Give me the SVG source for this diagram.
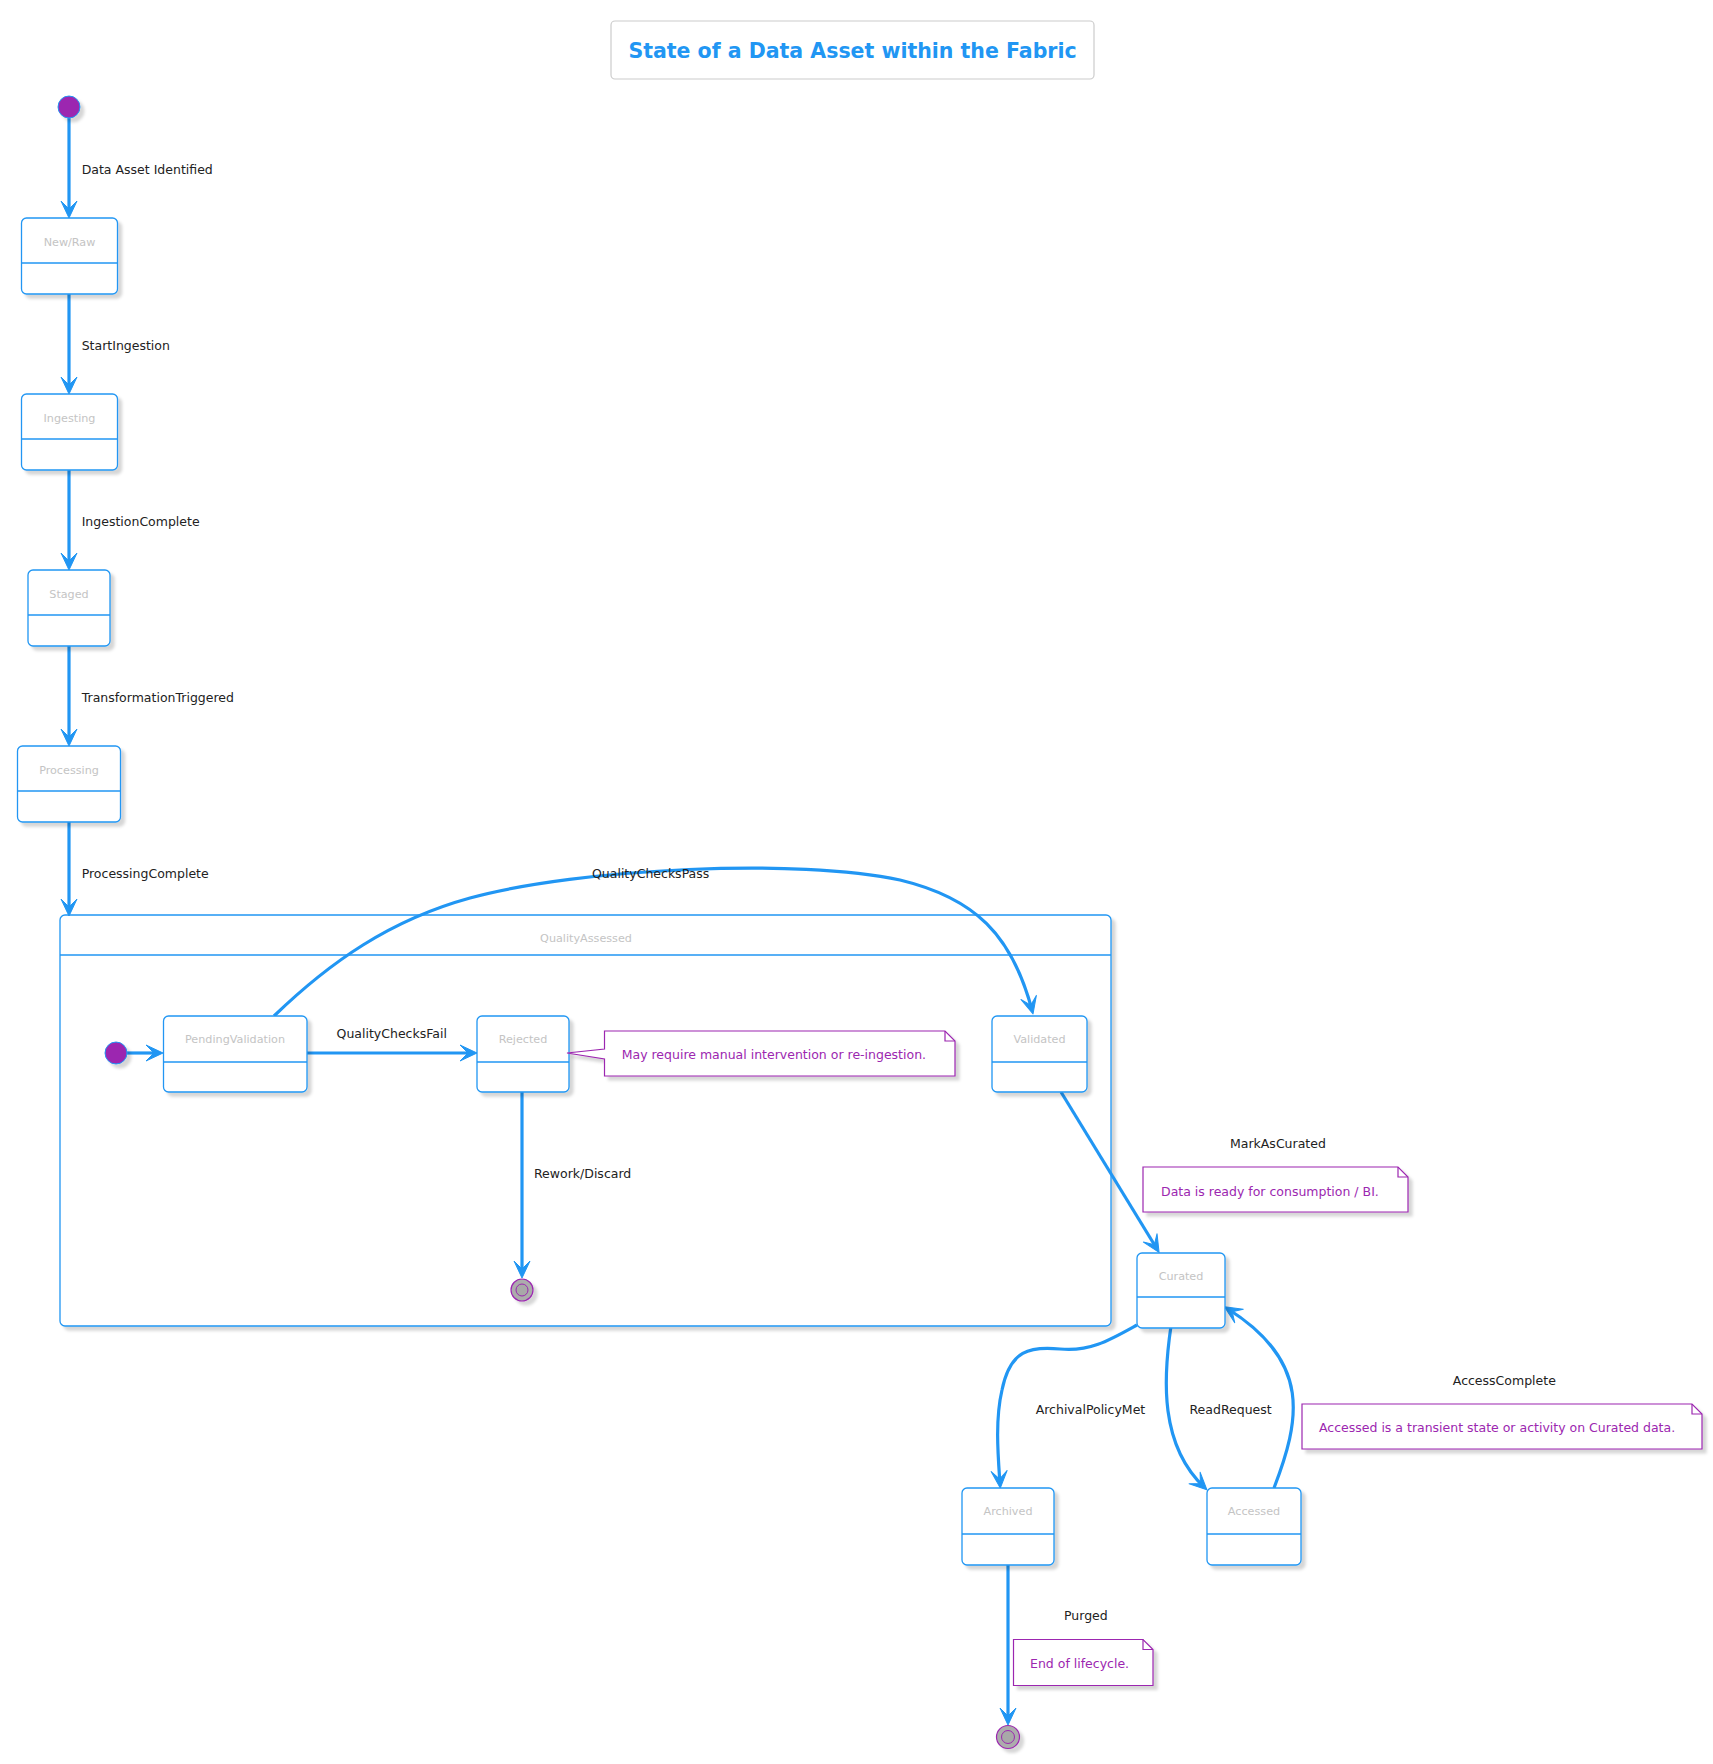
<svg xmlns="http://www.w3.org/2000/svg" width="1713" height="1764" viewBox="0 0 1713 1764">
<defs>
<filter id="sh" x="-20%" y="-20%" width="150%" height="150%">
<feDropShadow dx="4" dy="4" stdDeviation="1.8" flood-color="#000" flood-opacity="0.16"/>
</filter>
<marker id="ah" markerUnits="userSpaceOnUse" markerWidth="24" markerHeight="24" viewBox="-20 -12 24 24" refX="-4" refY="0" orient="auto">
<path d="M0,0 L-17,-8 L-9,0 L-17,8 Z" fill="#2196F3" stroke="#2196F3" stroke-width="1" stroke-linejoin="round"/>
</marker>
<style>
.st{fill:#fff;stroke:#2196F3;stroke-width:1.3;filter:url(#sh)}
.dv{stroke:#2196F3;stroke-width:1.3}
.nm{font-family:"DejaVu Sans",Verdana,sans-serif;font-size:11.2px;fill:#c4c4c4;text-anchor:middle}
.lb{font-family:"DejaVu Sans",Verdana,sans-serif;font-size:12.5px;fill:#222}
.nt{fill:#fff;stroke:#9C27B0;stroke-width:1.2;filter:url(#sh)}
.ntx{font-family:"DejaVu Sans",Verdana,sans-serif;font-size:12.5px;fill:#9C27B0}
.cn{fill:none;stroke:#2196F3;stroke-width:3.2;marker-end:url(#ah)}
.start{fill:#9C27B0;stroke:#2196F3;stroke-width:1;filter:url(#sh)}
.endo{fill:#acacac;stroke:#9C27B0;stroke-width:1.2;filter:url(#sh)}
.endi{fill:#a8a8a8;stroke:#9C27B0;stroke-width:1}
</style>
</defs>
<rect width="1713" height="1764" fill="#fff"/>

<g id="title">
<rect x="611" y="21" width="483" height="58" rx="4" fill="#fff" stroke="#ccc" stroke-width="1.2"/>
<text x="852.5" y="57.5" font-family="'DejaVu Sans',Verdana,sans-serif" font-size="20.5px" font-weight="bold" fill="#2196F3" text-anchor="middle">State of a Data Asset within the Fabric</text>
</g>

<g id="composite-QualityAssessed">
<rect class="st" x="60" y="915" width="1051" height="411" rx="5"/>
<line class="dv" x1="60" y1="955" x2="1111" y2="955"/>
<text class="nm" x="586" y="942">QualityAssessed</text>
</g>

<g id="connectors">
<path class="cn" d="M69,118 L69,214"/>
<path class="cn" d="M69,294 L69,390"/>
<path class="cn" d="M69,470 L69,566"/>
<path class="cn" d="M69,646 L69,742"/>
<path class="cn" d="M69,822 L69,912"/>
<path class="cn" d="M127,1053 L159,1053"/>
<path class="cn" d="M307,1053 L473,1053"/>
<path class="cn" d="M274,1016 C330,962 390,920 470,898 C580,868 800,858 900,880 C975,898 1012,935 1032,1010"/>
<path class="cn" d="M522,1092 L522,1274"/>
<path class="cn" d="M1061,1092 L1157,1249"/>
<path class="cn" d="M1137,1325 C1110,1340 1090,1352 1060,1349 C1030,1346 1010,1350 1002,1390 C995,1420 998,1455 1000,1484"/>
<path class="cn" d="M1171,1326 C1163,1380 1160,1445 1204,1487"/>
<path class="cn" d="M1274,1488 C1300,1420 1312,1362 1228,1309"/>
<path class="cn" d="M1008,1565 L1008,1721"/>
</g>

<g id="texts-connectors">
<text class="lb" x="81.7" y="173.5">Data Asset Identified</text>
<text class="lb" x="81.7" y="349.5">StartIngestion</text>
<text class="lb" x="81.7" y="525.5">IngestionComplete</text>
<text class="lb" x="81.7" y="701.5">TransformationTriggered</text>
<text class="lb" x="81.7" y="877.5">ProcessingComplete</text>
<text class="lb" x="592" y="877.5">QualityChecksPass</text>
<text class="lb" x="336.6" y="1037.5">QualityChecksFail</text>
<text class="lb" x="534" y="1177.5">Rework/Discard</text>
<text class="lb" x="1230" y="1147.5">MarkAsCurated</text>
<text class="lb" x="1035.7" y="1413.5">ArchivalPolicyMet</text>
<text class="lb" x="1189.5" y="1413.5">ReadRequest</text>
<text class="lb" x="1452.8" y="1384.5">AccessComplete</text>
<text class="lb" x="1064" y="1620">Purged</text>
</g>

<g id="start">
<circle class="start" cx="69" cy="107" r="11"/>
</g>

<g id="NewRaw">
<rect class="st" x="21.5" y="218" width="96" height="76" rx="5"/>
<line class="dv" x1="21.5" y1="263" x2="117.5" y2="263"/>
<text class="nm" x="69.5" y="245.5">New/Raw</text>
</g>
<g id="Ingesting">
<rect class="st" x="21.5" y="394" width="96" height="76" rx="5"/>
<line class="dv" x1="21.5" y1="439" x2="117.5" y2="439"/>
<text class="nm" x="69.5" y="421.5">Ingesting</text>
</g>
<g id="Staged">
<rect class="st" x="28" y="570" width="82" height="76" rx="5"/>
<line class="dv" x1="28" y1="615" x2="110" y2="615"/>
<text class="nm" x="69" y="597.5">Staged</text>
</g>
<g id="Processing">
<rect class="st" x="17.5" y="746" width="103" height="76" rx="5"/>
<line class="dv" x1="17.5" y1="791" x2="120.5" y2="791"/>
<text class="nm" x="69" y="773.5">Processing</text>
</g>

<g id="inner-start">
<circle class="start" cx="116" cy="1053" r="11"/>
</g>
<g id="PendingValidation">
<rect class="st" x="163.5" y="1016" width="143.5" height="76" rx="5"/>
<line class="dv" x1="163.5" y1="1062" x2="307" y2="1062"/>
<text class="nm" x="235" y="1043">PendingValidation</text>
</g>
<g id="Rejected">
<rect class="st" x="477" y="1016" width="92" height="76" rx="5"/>
<line class="dv" x1="477" y1="1062" x2="569" y2="1062"/>
<text class="nm" x="523" y="1043">Rejected</text>
</g>
<g id="Validated">
<rect class="st" x="992" y="1016" width="95" height="76" rx="5"/>
<line class="dv" x1="992" y1="1062" x2="1087" y2="1062"/>
<text class="nm" x="1039.5" y="1043">Validated</text>
</g>
<g id="inner-end">
<circle class="endo" cx="522" cy="1290" r="11"/>
<circle class="endi" cx="522" cy="1290" r="6"/>
</g>

<g id="note-rejected">
<path class="nt" d="M604.5,1031 L945,1031 L955,1041 L955,1076 L604.5,1076 L604.5,1059 L567,1053 L604.5,1049 Z"/>
<path d="M945,1031 L945,1041 L955,1041" fill="none" stroke="#9C27B0" stroke-width="1.2"/>
<text class="ntx" x="621.7" y="1058.5">May require manual intervention or re-ingestion.</text>
</g>

<g id="Curated">
<rect class="st" x="1137" y="1253" width="88" height="75" rx="5"/>
<line class="dv" x1="1137" y1="1297" x2="1225" y2="1297"/>
<text class="nm" x="1181" y="1280">Curated</text>
</g>
<g id="note-curated">
<path class="nt" d="M1143,1167 L1398,1167 L1408,1177 L1408,1212 L1143,1212 Z"/>
<path d="M1398,1167 L1398,1177 L1408,1177" fill="none" stroke="#9C27B0" stroke-width="1.2"/>
<text class="ntx" x="1161" y="1195.5">Data is ready for consumption / BI.</text>
</g>

<g id="Archived">
<rect class="st" x="962" y="1488" width="92" height="77" rx="5"/>
<line class="dv" x1="962" y1="1534" x2="1054" y2="1534"/>
<text class="nm" x="1008" y="1515">Archived</text>
</g>
<g id="Accessed">
<rect class="st" x="1207" y="1488" width="94" height="77" rx="5"/>
<line class="dv" x1="1207" y1="1534" x2="1301" y2="1534"/>
<text class="nm" x="1254" y="1515">Accessed</text>
</g>
<g id="note-accessed">
<path class="nt" d="M1302,1404 L1692,1404 L1702,1414 L1702,1449 L1302,1449 Z"/>
<path d="M1692,1404 L1692,1414 L1702,1414" fill="none" stroke="#9C27B0" stroke-width="1.2"/>
<text class="ntx" x="1319" y="1431.5">Accessed is a transient state or activity on Curated data.</text>
</g>

<g id="note-end">
<path class="nt" d="M1013.5,1639.5 L1143,1639.5 L1153,1649.5 L1153,1685.5 L1013.5,1685.5 Z"/>
<path d="M1143,1639.5 L1143,1649.5 L1153,1649.5" fill="none" stroke="#9C27B0" stroke-width="1.2"/>
<text class="ntx" x="1030" y="1667.5">End of lifecycle.</text>
</g>

<g id="end">
<circle class="endo" cx="1008" cy="1737" r="11.5"/>
<circle class="endi" cx="1008" cy="1737" r="6.5"/>
</g>
</svg>
